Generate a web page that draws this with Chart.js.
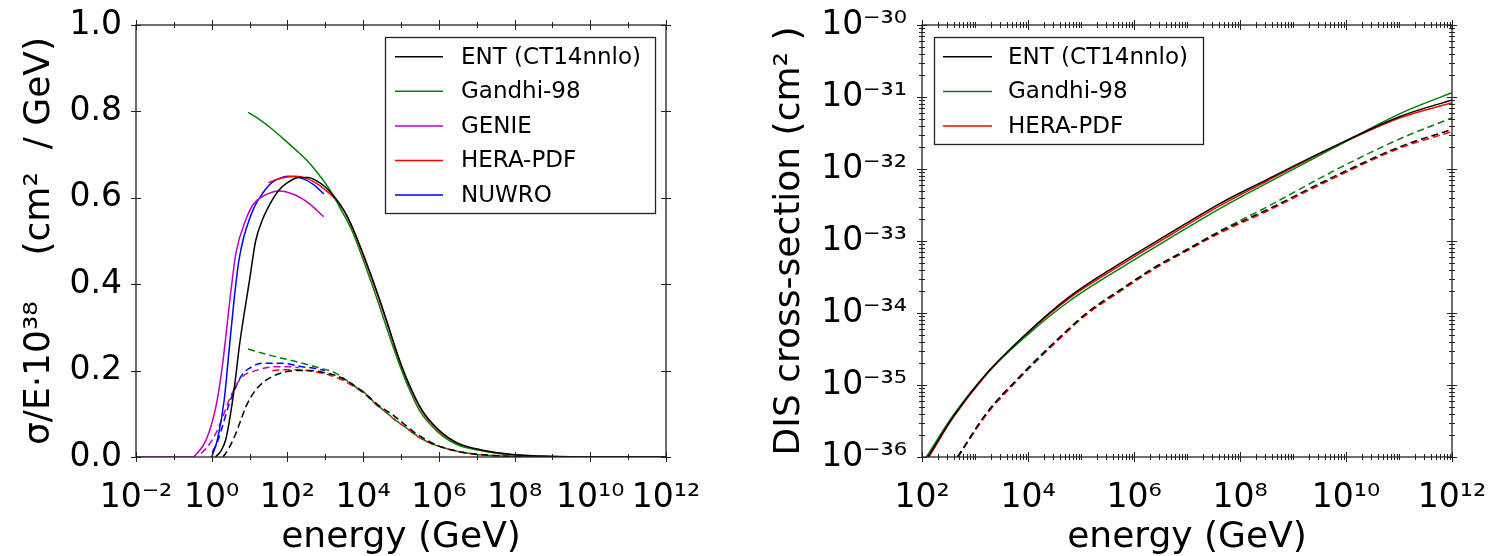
<!DOCTYPE html>
<html><head><meta charset="utf-8">
<script src="https://cdn.jsdelivr.net/npm/chart.js@4.4.0/dist/chart.umd.min.js"></script>
<style>
html,body{margin:0;padding:0;background:#fff;width:1501px;height:556px;overflow:hidden}
canvas{position:absolute;top:0}
#c1{left:0;width:730px;height:556px}
#c2{left:740px;width:761px;height:556px}
</style></head><body>
<canvas id="c1" width="730" height="556"></canvas>
<canvas id="c2" width="761" height="556"></canvas>
<script>
// ---------------- DATA (left panel: sigma/E * 1e38, energies given as log10(E/GeV)) ----------------
const leftXTickExps = [-2, 0, 2, 4, 6, 8, 10, 12];
const leftXMinorExps = [-1, 1, 3, 5, 7, 9, 11];
const leftYTicks = [0.0, 0.2, 0.4, 0.6, 0.8, 1.0];

const entLogE   = [0.1, 0.25, 0.37, 0.46, 0.55, 0.64, 0.72, 0.81, 0.9, 1.0, 1.16, 1.34, 1.6, 1.78, 2.0, 2.3, 2.55, 2.74, 3.0, 3.27, 3.5, 3.71, 4.06, 4.41, 4.67, 4.93, 5.2, 5.55, 6.0, 6.5, 7.13, 7.6, 8.2, 9.0, 10.0, 12.0];
const entSigE   = [0.0, 0.015, 0.04, 0.08, 0.13, 0.19, 0.25, 0.305, 0.355, 0.41, 0.5, 0.549, 0.595, 0.618, 0.635, 0.647, 0.647, 0.641, 0.625, 0.599, 0.57, 0.533, 0.456, 0.371, 0.302, 0.232, 0.171, 0.109, 0.0625, 0.032, 0.016, 0.009, 0.004, 0.001, 0.0, 0.0];
const gandhiLogE = [0.96, 1.2, 1.51, 1.85, 2.22, 2.5, 2.74, 3.0, 3.18, 3.4, 3.7, 4.02, 4.37, 4.63, 4.9, 5.17, 5.5, 5.95, 6.45, 7.1, 7.6, 8.2, 9.0, 10.0, 12.0];
const gandhiSigE = [0.798, 0.785, 0.765, 0.74, 0.711, 0.688, 0.664, 0.634, 0.61, 0.575, 0.525, 0.452, 0.365, 0.297, 0.228, 0.167, 0.106, 0.06, 0.03, 0.015, 0.008, 0.0035, 0.001, 0.0, 0.0];
const genieLogE = [-2.0, -0.5, -0.42, -0.15, 0.11, 0.28, 0.42, 0.5, 0.64, 0.9, 1.1, 1.34, 1.78, 2.22, 2.57, 2.96];
const genieSigE = [0.0, 0.0, 0.005, 0.039, 0.116, 0.209, 0.317, 0.379, 0.472, 0.549, 0.585, 0.603, 0.616, 0.606, 0.587, 0.556];
const heraLogE  = [1.5, 1.7, 2.0, 2.22, 2.5, 2.74, 3.0, 3.22, 3.5, 3.71, 4.06, 4.41, 4.67, 4.93, 5.2, 5.55, 6.0, 6.5, 7.13, 7.6, 8.2, 9.0, 10.0, 12.0];
const heraSigE  = [0.635, 0.642, 0.648, 0.65, 0.645, 0.635, 0.618, 0.601, 0.569, 0.532, 0.453, 0.368, 0.3, 0.23, 0.169, 0.107, 0.061, 0.031, 0.015, 0.008, 0.0035, 0.001, 0.0, 0.0];
const nuwroLogE = [0.0, 0.15, 0.33, 0.46, 0.59, 0.72, 0.85, 0.99, 1.15, 1.34, 1.5, 1.69, 2.04, 2.39, 2.7, 2.96];
const nuwroSigE = [0.0, 0.04, 0.132, 0.248, 0.363, 0.456, 0.51, 0.549, 0.583, 0.61, 0.628, 0.641, 0.65, 0.645, 0.63, 0.609];

const entBarLogE   = [0.3, 0.45, 0.64, 0.78, 0.9, 1.16, 1.51, 1.86, 2.22, 2.6, 3.0, 3.27, 3.6, 4.06, 4.4, 4.76, 5.1, 5.37, 5.7, 6.07, 6.69, 7.2, 7.8, 8.5, 9.5, 12.0];
const entBarSigE   = [0.0, 0.02, 0.055, 0.088, 0.116, 0.155, 0.182, 0.195, 0.2, 0.2, 0.195, 0.189, 0.175, 0.146, 0.12, 0.099, 0.075, 0.056, 0.038, 0.023, 0.01, 0.005, 0.002, 0.0005, 0.0, 0.0];
const gandhiBarLogE = [0.96, 1.51, 2.22, 2.74, 3.27, 3.79, 4.06, 4.32, 4.6, 4.85, 5.1, 5.46, 5.8, 6.07, 6.5, 7.0, 7.5, 8.0, 9.0, 12.0];
const gandhiBarSigE = [0.25, 0.236, 0.221, 0.209, 0.194, 0.163, 0.147, 0.124, 0.104, 0.086, 0.07, 0.047, 0.031, 0.023, 0.013, 0.006, 0.003, 0.001, 0.0, 0.0];
const genieBarLogE = [-0.28, -0.1, 0.11, 0.3, 0.46, 0.64, 0.81, 1.16, 1.69, 2.04, 2.3];
const genieBarSigE = [0.008, 0.025, 0.055, 0.095, 0.132, 0.165, 0.186, 0.2, 0.209, 0.209, 0.207];
const heraBarLogE  = [1.6, 1.9, 2.22, 2.74, 3.1, 3.5, 3.79, 4.06, 4.32, 4.6, 4.85, 5.1, 5.46, 5.8, 6.07, 6.5, 7.0, 7.5, 8.0, 9.0, 12.0];
const heraBarSigE  = [0.2, 0.202, 0.202, 0.197, 0.19, 0.176, 0.161, 0.145, 0.123, 0.104, 0.085, 0.07, 0.046, 0.031, 0.023, 0.013, 0.006, 0.003, 0.001, 0.0, 0.0];
const nuwroBarLogE = [0.02, 0.15, 0.28, 0.45, 0.64, 0.8, 0.99, 1.34, 1.86, 2.39, 2.74, 3.0];
const nuwroBarSigE = [0.012, 0.035, 0.07, 0.12, 0.163, 0.19, 0.205, 0.217, 0.217, 0.209, 0.205, 0.2];

// ---------------- DATA (right panel: DIS cross-section, log10 values) ----------------
const rightXTickExps = [2, 4, 6, 8, 10, 12];
const rightYTickExps = [-36, -35, -34, -33, -32, -31, -30];

const entDisLogE    = [2.11, 2.59, 3.22, 3.98, 4.79, 5.74, 6.68, 7.62, 8.5, 9.76, 11.02, 12.0];
const entDisLogSig  = [-36.0, -35.44, -34.84, -34.28, -33.77, -33.31, -32.89, -32.48, -32.15, -31.69, -31.27, -31.04];
const gandhiDisLogE   = [2.08, 2.59, 3.22, 3.98, 4.79, 5.74, 6.68, 7.62, 8.5, 9.76, 11.02, 12.0];
const gandhiDisLogSig = [-36.0, -35.42, -34.84, -34.31, -33.83, -33.38, -32.96, -32.55, -32.2, -31.71, -31.23, -30.94];
const heraDisLogE   = [2.13, 2.59, 3.22, 3.98, 4.79, 5.74, 6.68, 7.62, 8.5, 9.76, 11.02, 12.0];
const heraDisLogSig = [-36.0, -35.45, -34.85, -34.29, -33.79, -33.34, -32.92, -32.51, -32.17, -31.70, -31.29, -31.08];
const entDisBarLogE   = [2.67, 3.22, 3.85, 4.48, 5.11, 5.74, 6.36, 6.99, 7.62, 8.5, 9.76, 11.02, 12.0];
const entDisBarLogSig = [-36.0, -35.39, -34.88, -34.42, -34.0, -33.68, -33.38, -33.125, -32.87, -32.57, -32.11, -31.69, -31.45];
const gandhiDisBarLogE   = [2.67, 3.22, 3.85, 4.48, 5.11, 5.74, 6.36, 6.99, 7.62, 8.5, 9.76, 11.02, 12.0];
const gandhiDisBarLogSig = [-36.0, -35.39, -34.88, -34.42, -34.0, -33.68, -33.38, -33.12, -32.86, -32.53, -32.03, -31.58, -31.29];
const heraDisBarLogE   = [2.68, 3.22, 3.85, 4.48, 5.11, 5.74, 6.36, 6.99, 7.62, 8.5, 9.76, 11.02, 12.0];
const heraDisBarLogSig = [-36.0, -35.41, -34.9, -34.44, -34.02, -33.7, -33.4, -33.14, -32.89, -32.59, -32.13, -31.71, -31.48];

// ---------------- helpers ----------------
const SUP = {'-':'\u207B','0':'\u2070','1':'\u00B9','2':'\u00B2','3':'\u00B3','4':'\u2074','5':'\u2075','6':'\u2076','7':'\u2077','8':'\u2078','9':'\u2079'};
function pow10Label(v){ const e = Math.round(Math.log10(v)); return '10' + String(e).split('').map(c => SUP[c]).join(''); }
function ptsLogX(lx, ys){ return lx.map((l,i) => ({x: Math.pow(10,l), y: ys[i]})); }
function ptsLogXY(lx, ly){ return lx.map((l,i) => ({x: Math.pow(10,l), y: Math.pow(10, ly[i])})); }

const FONT = 'DejaVu Sans';
const C = {k:'#000000', g:'#008000', m:'#bf00bf', r:'#ff0000', b:'#0000ff'};

function ds(label, data, color, dashed, legend){
  return {label, data, borderColor: color, backgroundColor: color, borderWidth: 1.5,
    borderDash: dashed ? [7,4] : [], pointRadius: 0, tension: 0.4,
    cubicInterpolationMode: 'monotone', fill: false, showInLegend: legend};
}

function line(ctx,x0,y0,x1,y1){ ctx.beginPath(); ctx.moveTo(x0,y0); ctx.lineTo(x1,y1); ctx.stroke(); }

const framePlugin = {
  id: 'frame',
  afterDraw(chart, args, o){
    const {ctx, chartArea: a, scales} = chart;
    const xs = scales.x, ys = scales.y;
    ctx.save();
    ctx.strokeStyle = '#222'; ctx.lineWidth = 1;
    const xT = (vals, len) => vals.forEach(v => { const p = Math.round(xs.getPixelForValue(v)) + 0.5;
      line(ctx, p, a.bottom - len, p, a.bottom + len); line(ctx, p, a.top - len, p, a.top + len); });
    const yT = (vals, len) => vals.forEach(v => { const p = Math.round(ys.getPixelForValue(v)) + 0.5;
      line(ctx, a.left - len, p, a.left + len, p); line(ctx, a.right - len, p, a.right + len, p); });
    xT(o.xMajor, 5); xT(o.xMinor, 3); yT(o.yMajor, 5); yT(o.yMinor, 3);
    ctx.lineWidth = 1.3;
    ctx.strokeRect(a.left, a.top, a.right - a.left, a.bottom - a.top);
    // legend
    const L = o.legend;
    ctx.fillStyle = '#fff';
    ctx.fillRect(L.x, L.y, L.w, L.h);
    ctx.strokeStyle = '#222'; ctx.lineWidth = 1.3;
    ctx.strokeRect(L.x + 0.5, L.y + 0.5, L.w, L.h);
    ctx.font = '23px "' + FONT + '"'; ctx.textBaseline = 'middle'; ctx.textAlign = 'left';
    let row = 0;
    chart.data.datasets.forEach(d => {
      if (!d.showInLegend) return;
      const y = L.row0 + row * L.step;
      ctx.strokeStyle = d.borderColor; ctx.lineWidth = 1.5;
      line(ctx, L.lx0, y, L.lx1, y);
      ctx.fillStyle = '#000';
      ctx.fillText(d.label, L.tx, y + 1);
      row++;
    });
    ctx.restore();
  }
};

function fitX(s){ s.height = 99; s.paddingLeft = 0; s.paddingRight = 0; }
function fitY(w){ return s => { s.width = w; s.paddingTop = 0; s.paddingBottom = 0; }; }

// ---------------- left chart ----------------
new Chart(document.getElementById('c1'), {
  type: 'line',
  data: { datasets: [
    ds('ENT (CT14nnlo)', ptsLogX(entLogE, entSigE), C.k, false, true),
    ds('Gandhi-98', ptsLogX(gandhiLogE, gandhiSigE), C.g, false, true),
    ds('GENIE', ptsLogX(genieLogE, genieSigE), C.m, false, true),
    ds('HERA-PDF', ptsLogX(heraLogE, heraSigE), C.r, false, true),
    ds('NUWRO', ptsLogX(nuwroLogE, nuwroSigE), C.b, false, true),
    ds('ENT (CT14nnlo) anti', ptsLogX(entBarLogE, entBarSigE), C.k, true, false),
    ds('Gandhi-98 anti', ptsLogX(gandhiBarLogE, gandhiBarSigE), C.g, true, false),
    ds('GENIE anti', ptsLogX(genieBarLogE, genieBarSigE), C.m, true, false),
    ds('HERA-PDF anti', ptsLogX(heraBarLogE, heraBarSigE), C.r, true, false),
    ds('NUWRO anti', ptsLogX(nuwroBarLogE, nuwroBarSigE), C.b, true, false)
  ]},
  options: {
    responsive: false, animation: false, events: [],
    layout: { padding: {top: 25, right: 64, left: 0, bottom: 0} },
    plugins: { legend: {display: false}, tooltip: {enabled: false},
      frame: { xMajor: leftXTickExps.map(e => Math.pow(10,e)), xMinor: leftXMinorExps.map(e => Math.pow(10,e)),
               yMajor: leftYTicks, yMinor: [],
               legend: {x: 385, y: 37, w: 270, h: 176, row0: 56.7, step: 34.6, lx0: 395, lx1: 443, tx: 461} } },
    scales: {
      x: { type: 'logarithmic', min: 1e-2, max: 1e12,
        afterBuildTicks: s => { s.ticks = leftXTickExps.map(e => ({value: Math.pow(10,e)})); },
        afterFit: fitX,
        grid: {display: false, drawTicks: false}, border: {display: false},
        ticks: { callback: v => pow10Label(v), maxRotation: 0, autoSkip: false, padding: 22, color: '#000',
                 font: {family: FONT, size: 33} },
        title: { display: true, text: 'energy (GeV)', color: '#000', font: {family: FONT, size: 36, lineHeight: 1.0}, padding: {top: 0, bottom: 0} } },
      y: { type: 'linear', min: 0, max: 1,
        afterBuildTicks: s => { s.ticks = leftYTicks.map(v => ({value: v})); },
        afterFit: fitY(136),
        grid: {display: false, drawTicks: false}, border: {display: false},
        ticks: { callback: v => v.toFixed(1), padding: 14, color: '#000', font: {family: FONT, size: 33} },
        title: { display: true, text: '\u03C3/E\u00B710\u00B3\u2078    (cm\u00B2  / GeV)', color: '#000',
                 font: {family: FONT, size: 36, lineHeight: 1.0}, padding: {top: 22, bottom: 0} } }
    }
  },
  plugins: [framePlugin]
});

// ---------------- right chart ----------------
const rightYMinor = [];
rightYTickExps.slice(0, -1).forEach(e => { for (let k = 2; k <= 9; k++) rightYMinor.push(k * Math.pow(10, e)); });
const rightXMinor = [];
for (let e = 2; e < 12; e++) { for (let k = 2; k <= 9; k++) rightXMinor.push(k * Math.pow(10, e)); if (e % 2 === 1) rightXMinor.push(Math.pow(10, e)); }

new Chart(document.getElementById('c2'), {
  type: 'line',
  data: { datasets: [
    ds('ENT (CT14nnlo)', ptsLogXY(entDisLogE, entDisLogSig), C.k, false, true),
    ds('Gandhi-98', ptsLogXY(gandhiDisLogE, gandhiDisLogSig), C.g, false, true),
    ds('HERA-PDF', ptsLogXY(heraDisLogE, heraDisLogSig), C.r, false, true),
    ds('ENT (CT14nnlo) anti', ptsLogXY(entDisBarLogE, entDisBarLogSig), C.k, true, false),
    ds('Gandhi-98 anti', ptsLogXY(gandhiDisBarLogE, gandhiDisBarLogSig), C.g, true, false),
    ds('HERA-PDF anti', ptsLogXY(heraDisBarLogE, heraDisBarLogSig), C.r, true, false)
  ]},
  options: {
    responsive: false, animation: false, events: [],
    layout: { padding: {top: 25, right: 49, left: 0, bottom: 0} },
    plugins: { legend: {display: false}, tooltip: {enabled: false},
      frame: { xMajor: rightXTickExps.map(e => Math.pow(10,e)), xMinor: rightXMinor,
               yMajor: rightYTickExps.map(e => Math.pow(10,e)), yMinor: rightYMinor,
               legend: {x: 194, y: 37, w: 269, h: 107, row0: 56.7, step: 34.7, lx0: 203, lx1: 252, tx: 268} } },
    scales: {
      x: { type: 'logarithmic', min: 1e2, max: 1e12,
        afterBuildTicks: s => { s.ticks = rightXTickExps.map(e => ({value: Math.pow(10,e)})); },
        afterFit: fitX,
        grid: {display: false, drawTicks: false}, border: {display: false},
        ticks: { callback: v => pow10Label(v), maxRotation: 0, autoSkip: false, padding: 22, color: '#000',
                 font: {family: FONT, size: 33} },
        title: { display: true, text: 'energy (GeV)', color: '#000', font: {family: FONT, size: 36, lineHeight: 1.0}, padding: {top: 0, bottom: 0} } },
      y: { type: 'logarithmic', min: 1e-36, max: 1e-30,
        afterBuildTicks: s => { s.ticks = rightYTickExps.map(e => ({value: Math.pow(10,e)})); },
        afterFit: fitY(182),
        grid: {display: false, drawTicks: false}, border: {display: false},
        ticks: { callback: v => pow10Label(v), padding: 15, color: '#000', font: {family: FONT, size: 33} },
        title: { display: true, text: 'DIS cross-section (cm\u00B2 )', color: '#000',
                 font: {family: FONT, size: 36, lineHeight: 1.0}, padding: {top: 32, bottom: 0} } }
    }
  },
  plugins: [framePlugin]
});
</script>
</body></html>
